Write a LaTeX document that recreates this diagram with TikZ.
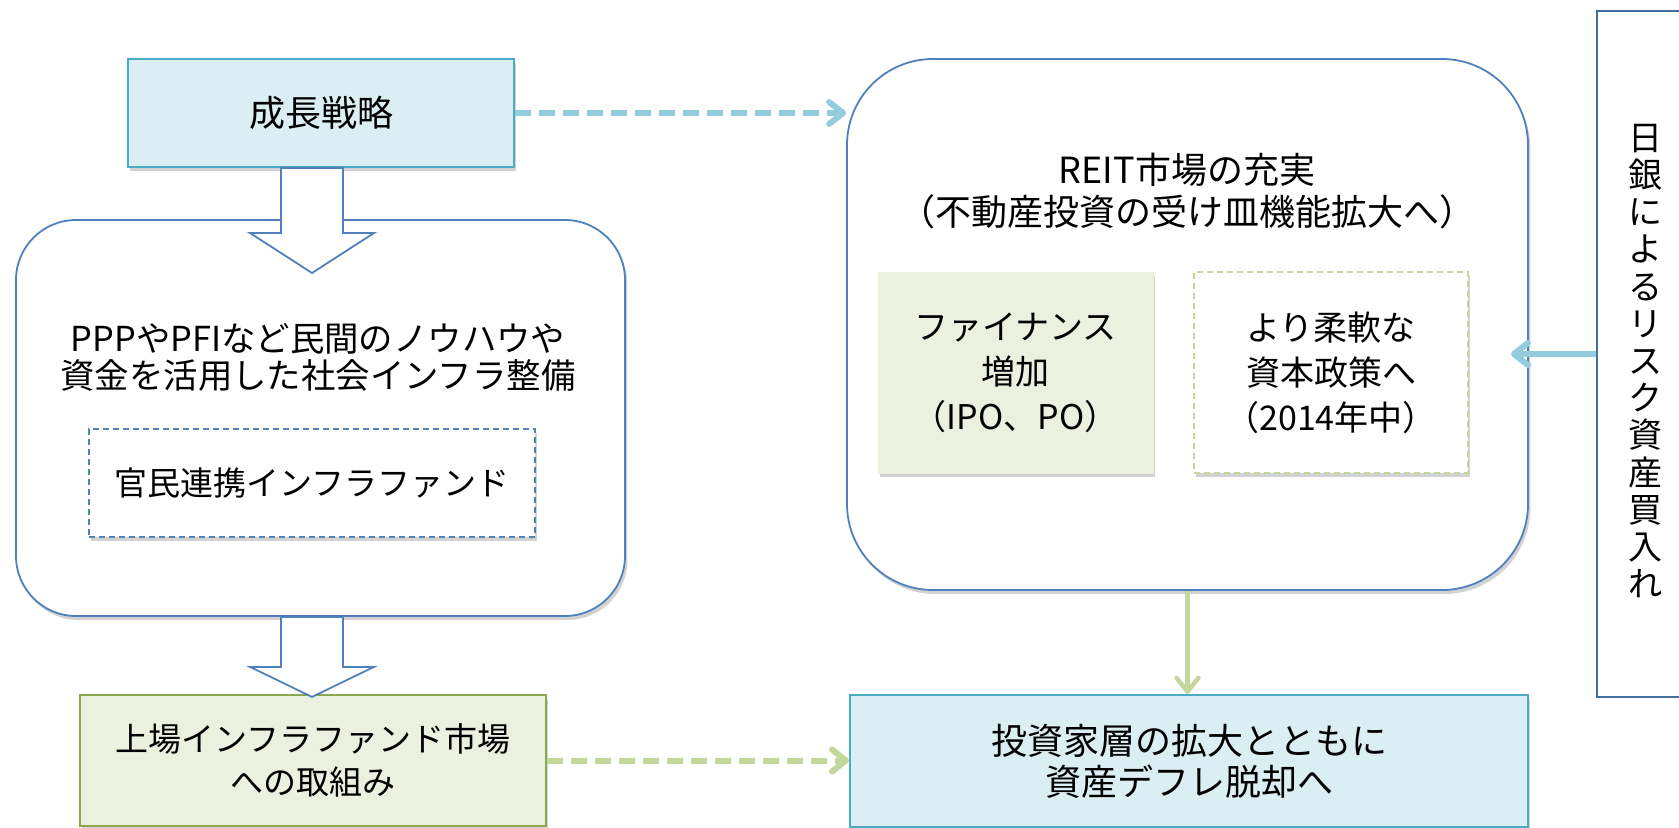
\documentclass[tikz,border=0pt]{standalone}
\usepackage{fontspec}
\setmainfont{Noto Sans CJK JP}
\usetikzlibrary{arrows.meta,shadows,calc}
\definecolor{ltblue}{HTML}{DBEEF4}
\definecolor{tealb}{HTML}{4BACC6}
\definecolor{olivef}{HTML}{EBF1DE}
\definecolor{oliveb}{HTML}{8AA84E}
\definecolor{greenarr}{HTML}{C3D69B}
\definecolor{bluearr}{HTML}{93CDDD}
\definecolor{boxblue}{HTML}{4F81BD}
\definecolor{bojblue}{HTML}{41709E}
\begin{document}
\begin{tikzpicture}[x=0.5pt,y=-0.5pt,
  shadowed/.style={drop shadow={shadow xshift=1.2pt,shadow yshift=-2pt,opacity=0.25,fill=black!70}},
  bigfont/.style={font=\fontsize{18pt}{19pt}\selectfont},
  txt/.style={align=center, inner sep=0pt},
  bluebox/.style={rectangle, draw=tealb, line width=1pt, fill=ltblue, align=center, inner sep=0pt, shadowed},
  olivebox/.style={rectangle, draw=oliveb, line width=1pt, fill=olivef, align=center, inner sep=0pt, shadowed},
  roundbox/.style={rectangle, draw=boxblue, line width=0.9pt, fill=white, inner sep=0pt, shadowed},
  dashbox/.style={rectangle, draw=boxblue, line width=0.9pt, dash pattern=on 3pt off 2pt, fill=white, align=center, inner sep=0pt, shadowed},
  finbox/.style={rectangle, draw=olivef, fill=olivef, align=center, inner sep=0pt, shadowed},
  flexbox/.style={rectangle, draw=greenarr, line width=0.9pt, dash pattern=on 3pt off 2pt, fill=white, align=center, inner sep=0pt, shadowed},
  bojbox/.style={rectangle, draw=bojblue, line width=1pt, fill=white, inner sep=0pt},
  blockarrow/.style={draw=boxblue, line width=0.9pt, fill=white, line join=miter},
  dasharrow/.style={line width=3pt, dash pattern=on 8pt off 4pt, -{Straight Barb[length=7pt,width=11pt,round]}},
  solidarrow/.style={line width=3pt, -{Straight Barb[length=7pt,width=11pt,round]}},
]
\useasboundingbox (0,0) rectangle (1679,828);

% left column
\node[bluebox, bigfont, minimum width=193pt, minimum height=54pt] (grow) at (321,113) {成長戦略};
\node[roundbox, rounded corners=30pt, minimum width=304.5pt, minimum height=198pt] (ppp) at (320.5,418) {};
\node[txt, font=\fontsize{17.2pt}{18.5pt}\selectfont] (ppptext) at (318,357) {PPPやPFIなど民間のノウハウや\\資金を活用した社会インフラ整備};
\node[dashbox, font=\fontsize{16.5pt}{18pt}\selectfont, minimum width=223pt, minimum height=54pt] (kanmin) at (312,483) {官民連携インフラファンド};
\node[olivebox, font=\fontsize{16.5pt}{21.5pt}\selectfont, minimum width=233pt, minimum height=65.5pt] (jojo) at (313,760.5) {上場インフラファンド市場\\への取組み};

% right column
\node[roundbox, rounded corners=43pt, minimum width=340.5pt, minimum height=265.5pt] (reit) at (1187.5,324.5) {};
\node[txt, font=\fontsize{18pt}{21pt}\selectfont] (reittext) at (1187,191) {REIT市場の充実\\（不動産投資の受け皿機能拡大へ）};
\node[finbox, font=\fontsize{17pt}{22.5pt}\selectfont, minimum width=137.5pt, minimum height=100.5pt] (fin) at (1015.5,372.5) {ファイナンス\\増加\\（IPO、PO）};
\node[flexbox, font=\fontsize{17pt}{22.5pt}\selectfont, minimum width=137pt, minimum height=100.5pt] (flex) at (1331,372.5) {より柔軟な\\資本政策へ\\（2014年中）};
\node[bluebox, font=\fontsize{18pt}{20.5pt}\selectfont, minimum width=339pt, minimum height=66pt] (toshi) at (1189,761) {投資家層の拡大とともに\\資産デフレ脱却へ};

% BOJ box
\node[bojbox, minimum width=60pt, minimum height=343pt] (boj) at (1657,354) {};
\node[txt, font=\fontsize{17pt}{18.6pt}\selectfont] (bojtext) at (1645,361) {日\\銀\\に\\よ\\る\\リ\\ス\\ク\\資\\産\\買\\入\\れ};

% block arrows
\coordinate (b1) at ($(grow.south)+(-9,0)$);
\draw[blockarrow] (b1) ++(-31,0) -- ++(62,0) -- ++(0,65) -- ++(31,0) -- ++(-62,40) -- ++(-62,-40) -- ++(31,0) -- cycle;
\coordinate (b2) at ($(ppp.south)+(-8.5,0)$);
\draw[blockarrow] (b2) ++(-31,0) -- ++(62,0) -- ++(0,50) -- ++(31,0) -- ++(-62,30) -- ++(-62,-30) -- ++(31,0) -- cycle;

% connectors
\draw[dasharrow, draw=bluearr] (grow.east) -- (grow.east -| reit.west);
\draw[dasharrow, draw=greenarr] (jojo.east) -- (jojo.east -| toshi.west);
\draw[line width=2.2pt, draw=greenarr, -{Straight Barb[length=7pt,width=11pt,round]}] (reit.south) -- (reit.south |- toshi.north);
\draw[solidarrow, draw=bluearr, shorten >=-9pt] (boj.west) -- (boj.west -| reit.east);
\end{tikzpicture}
\end{document}
